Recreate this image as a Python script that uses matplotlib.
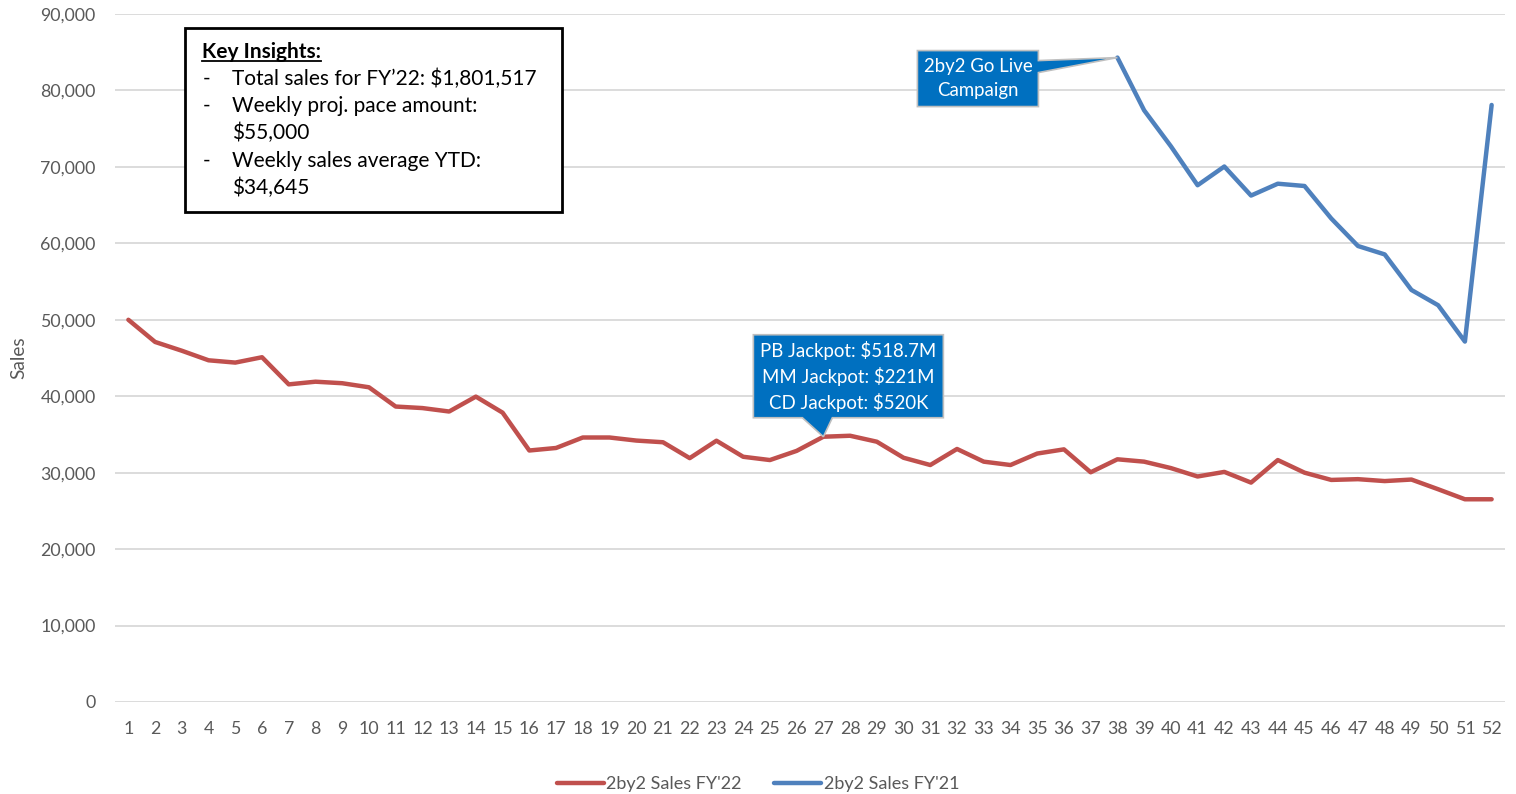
import matplotlib
matplotlib.use("Agg")
import matplotlib.pyplot as plt
import matplotlib.transforms as mtransforms
from matplotlib.patches import Polygon, Rectangle
from matplotlib.lines import Line2D

plt.rcParams['font.family'] = ['Lato', 'DejaVu Sans']

# ---------------- data ----------------
weeks = list(range(1, 53))
sales_fy22 = [50000, 47100, 45950, 44700, 44400, 45100, 41550, 41900, 41700, 41170,
              38650, 38450, 38000, 39950, 37850, 32900, 33230, 34600, 34600, 34200,
              33980, 31900, 34180, 32080, 31650, 32850, 34700, 34830, 34050, 31950,
              31000, 33100, 31440, 31000, 32500, 33050, 30050, 31750, 31440, 30600,
              29500, 30100, 28700, 31650, 30000, 29050, 29150, 28900, 29100, 27830,
              26520, 26520]
fy21_weeks = list(range(38, 53))
sales_fy21 = [84300, 77400, 72700, 67600, 70050, 66250, 67800, 67500, 63250, 59650,
              58550, 53900, 51900, 47150, 78100]
yticks = list(range(0, 90001, 10000))
series_names = ["2by2 Sales FY'22", "2by2 Sales FY'21"]
insights_title = "Key Insights:"
insights = [("-", "Total sales for FY\u201922: $1,801,517"),
            ("-", "Weekly proj. pace amount:"),
            ("", "$55,000"),
            ("-", "Weekly sales average YTD:"),
            ("", "$34,645")]
callout_jackpot = "PB Jackpot: $518.7M\nMM Jackpot: $221M\nCD Jackpot: $520K"
callout_golive = "2by2 Go Live\nCampaign"

RED = "#C0504D"
BLUE = "#4F81BD"
CALLOUT = "#0070C0"
GRAY_TXT = "#595959"

W, H = 1516, 794
fig = plt.figure(figsize=(W / 100, H / 100), dpi=100)
ax = fig.add_axes([115 / W, 92 / H, 1390 / W, 688 / H])

ax.plot(weeks, sales_fy22, color=RED, lw=3.2, solid_joinstyle='round',
        solid_capstyle='round', label=series_names[0], zorder=3)
ax.plot(fy21_weeks, sales_fy21, color=BLUE, lw=3.2, solid_joinstyle='round',
        solid_capstyle='round', label=series_names[1], zorder=3)

ax.set_xlim(0.5, 52.5)
ax.set_ylim(0, 90000)
ax.set_xticks(weeks)
ax.set_xticklabels([str(w) for w in weeks])
ax.set_yticks(yticks)
ax.set_yticklabels([f"{v:,}" for v in yticks])
ax.tick_params(axis='both', length=0, labelsize=12.8, labelcolor=GRAY_TXT)
ax.tick_params(axis='y', pad=14)
ax.tick_params(axis='x', pad=14)
for s in ax.spines.values():
    s.set_visible(False)
ax.grid(axis='y', color='#D9D9D9', lw=1.3, zorder=0)
ax.set_axisbelow(True)
ax.set_ylabel("Sales", fontsize=13.8, color=GRAY_TXT, labelpad=9)

# ------------- callouts -------------
def callout(xd, yd, verts, text, tx, ty):
    trans = mtransforms.Affine2D() + mtransforms.ScaledTranslation(xd, yd, ax.transData)
    poly = Polygon(verts, closed=True, transform=trans, facecolor=CALLOUT,
                   edgecolor='#BFBFBF', lw=1.2, zorder=5, clip_on=False)
    ax.add_patch(poly)
    ax.text(tx, ty, text, transform=trans, ha='center', va='center', color='white',
            fontsize=13.4, linespacing=1.45, zorder=6, clip_on=False)

i27 = weeks.index(27)
callout(weeks[i27], sales_fy22[i27],
        [(-70, 19), (-21, 19), (0, 0), (9, 19), (120, 19), (120, 102), (-70, 102)],
        callout_jackpot, 25, 60)
callout(fy21_weeks[0], sales_fy21[0],
        [(-200, 7), (-79, 7), (-79, -3), (0, 0), (-79, -15), (-79, -49), (-200, -49)],
        callout_golive, -139.5, -21)

# ------------- key insights box -------------
fig.patches.append(Rectangle((185 / W, 1 - 212 / H), 377 / W, 184 / H,
                             transform=fig.transFigure, fill=True, facecolor='white',
                             edgecolor='black', lw=2.0, zorder=10))
title = fig.text(202 / W, 1 - 52 / H, insights_title, fontsize=15, fontweight='bold',
                 ha='left', va='center', color='black', zorder=11)
ys = [79, 106, 133, 161, 188]
for (dash, txt), y in zip(insights, ys):
    if dash:
        fig.text(203 / W, 1 - y / H, dash, fontsize=15, ha='left', va='center', zorder=11)
    fig.text(232 / W, 1 - y / H, txt, fontsize=15, ha='left', va='center', zorder=11)

fig.canvas.draw()
bb = title.get_window_extent()
uy = bb.y0 + 1
fig.add_artist(Line2D([bb.x0 / W, bb.x1 / W], [uy / H, uy / H], transform=fig.transFigure,
                      color='black', lw=1.3, zorder=12))

# ------------- legend -------------
leg = fig.legend(loc='center', bbox_to_anchor=(0.5, 1 - 784 / H), ncol=2, frameon=False,
                 fontsize=13.0, handlelength=2.6, handletextpad=0.15, columnspacing=1.8)
for t in leg.get_texts():
    t.set_color(GRAY_TXT)

fig.savefig("out.png", dpi=100)
